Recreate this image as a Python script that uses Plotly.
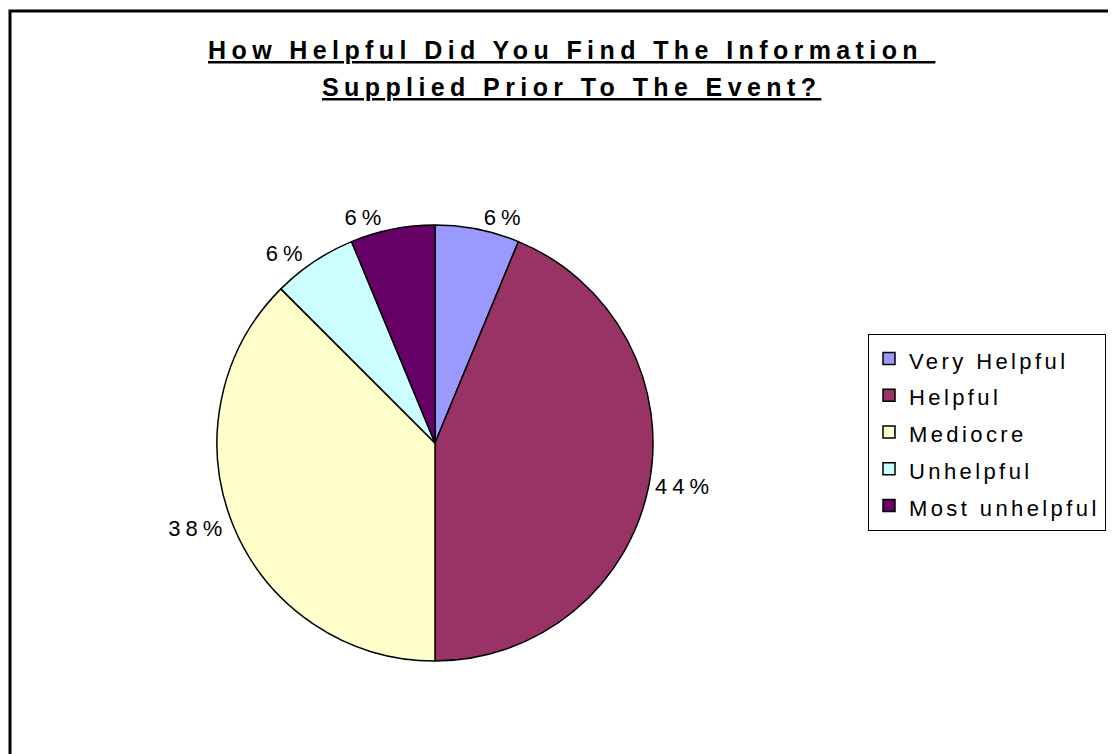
import plotly.graph_objects as go

# responses per answer (16 in total)
labels = ["Very Helpful", "Helpful", "Mediocre", "Unhelpful", "Most unhelpful"]
counts = [1, 7, 6, 1, 1]
colors = ["#9999FF", "#993366", "#FFFFCC", "#CCFFFF", "#660066"]
title_lines = ["How Helpful Did You Find The Information ", "Supplied Prior To The Event?"]

W, H = 1116, 754
OFF = 8  # page body margin
font = "Liberation Sans, Arial, sans-serif"


def px(x):
    return (x - OFF) / W


def py(y):
    return 1 - (y - OFF) / H


def spaced(s, sp, size=None):
    st = f"letter-spacing:{sp}px"
    if size:
        st += f";font-size:{size}px"
    return f"<span style='{st}'>{s}</span>"


cx, cy, r = 435, 443, 218

fig = go.Figure(go.Pie(
    labels=[spaced(l, 3.4, 22) for l in labels],
    values=counts,
    sort=False,
    direction="clockwise",
    rotation=0,
    marker=dict(colors=colors, line=dict(color="black", width=1.5)),
    texttemplate=spaced("%{percent:.0%}", 5),
    textposition="outside",
    textfont=dict(family=font, size=22, color="black"),
    hovertemplate="%{label}: %{value}<extra></extra>",
    domain=dict(x=[px(cx - r), px(cx + r)], y=[py(cy + r), py(cy - r)]),
))

# title as two centred lines
title_y = [50, 87]
for t, ty in zip(title_lines, title_y):
    fig.add_annotation(
        text=spaced(f"<b><u>{t}</u></b>", 5.4),
        xref="paper", yref="paper", x=px(571), y=py(ty),
        xanchor="center", yanchor="middle", showarrow=False,
        font=dict(family=font, size=25, color="black"),
    )

fig.update_layout(
    width=W, height=H,
    margin=dict(l=0, r=0, t=0, b=0),
    paper_bgcolor="white",
    font=dict(family=font, color="black"),
    legend=dict(
        x=px(868), y=py(334), xanchor="left", yanchor="top",
        bordercolor="black", borderwidth=1,
        font=dict(family=font, size=26, color="black"),
        bgcolor="white",
    ),
    shapes=[dict(type="rect", xref="paper", yref="paper",
                 x0=px(10), y0=-0.02, x1=1.02, y1=py(11),
                 line=dict(color="black", width=3))],
)

fig.write_html("out.html")
